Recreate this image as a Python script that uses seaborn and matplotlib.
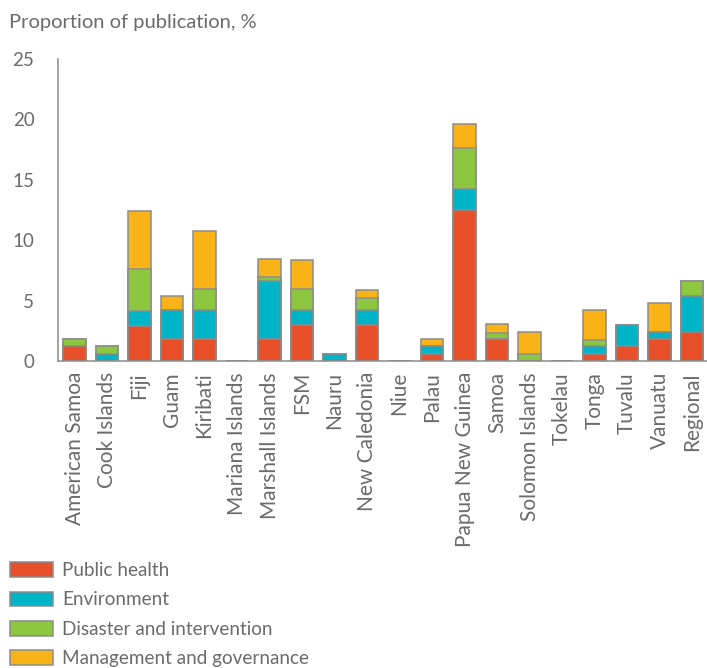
import numpy as np
import pandas as pd
import matplotlib.pyplot as plt
import matplotlib.patches as mpatches
import seaborn as sns

countries = ['American Samoa', 'Cook Islands', 'Fiji', 'Guam', 'Kiribati',
             'Mariana Islands', 'Marshall Islands', 'FSM', 'Nauru', 'New Caledonia',
             'Niue', 'Palau', 'Papua New Guinea', 'Samoa', 'Solomon Islands',
             'Tokelau', 'Tonga', 'Tuvalu', 'Vanuatu', 'Regional']

public_health = [1.2, 0.0, 2.9, 1.8, 1.8, 0.0, 1.8, 3.0, 0.0, 3.0,
                 0.0, 0.6, 12.5, 1.8, 0.0, 0.0, 0.6, 1.2, 1.8, 2.4]
environment = [0.0, 0.6, 1.2, 2.4, 2.4, 0.0, 4.8, 1.2, 0.6, 1.2,
               0.0, 0.6, 1.7, 0.0, 0.0, 0.0, 0.6, 1.8, 0.6, 3.0]
disaster = [0.6, 0.6, 3.5, 0.0, 1.8, 0.0, 0.35, 1.8, 0.0, 1.05,
            0.0, 0.0, 3.45, 0.55, 0.6, 0.0, 0.55, 0.0, 0.0, 1.2]
management = [0.0, 0.0, 4.8, 1.2, 4.8, 0.0, 1.5, 2.4, 0.0, 0.65,
              0.0, 0.6, 1.95, 0.7, 1.8, 0.0, 2.5, 0.0, 2.4, 0.0]

series_names = ['Public health', 'Environment', 'Disaster and intervention',
                'Management and governance']
colors = ['#E8502A', '#00B4C8', '#8DC63F', '#F9B316']

TEXT = '#6b6b6b'
EDGE = '#8c8c8c'

sns.set_style('white')
plt.rcParams['font.family'] = ['Lato', 'DejaVu Sans']
plt.rcParams['text.color'] = TEXT
plt.rcParams['axes.labelcolor'] = TEXT
plt.rcParams['xtick.color'] = EDGE
plt.rcParams['ytick.color'] = EDGE
plt.rcParams['xtick.labelcolor'] = TEXT
plt.rcParams['ytick.labelcolor'] = TEXT

df = pd.DataFrame({'country': countries,
                   series_names[0]: public_health,
                   series_names[1]: environment,
                   series_names[2]: disaster,
                   series_names[3]: management})
cum = df[series_names].cumsum(axis=1)
cum['country'] = countries

fig = plt.figure(figsize=(7.07, 6.68), dpi=100)
ax = fig.add_axes([0.082, 0.4596, 0.918, 0.452])

# stacked bars: draw cumulative totals from the top layer down
for name, col in reversed(list(zip(series_names, colors))):
    sns.barplot(data=cum, x='country', y=name, order=countries, color=col,
                saturation=1, width=0.69, edgecolor=EDGE, linewidth=1.1,
                ax=ax)

ax.set_xlim(-0.51, 19.46)
ax.set_ylim(0, 25)
ax.set_yticks([0, 5, 10, 15, 20, 25])
ax.set_xlabel('')
ax.set_ylabel('')
ax.tick_params(axis='y', length=7, width=1.1, pad=10, labelsize=13.5)
ax.tick_params(axis='x', which='major', length=0, pad=8, labelsize=15,
               labelrotation=90)
ax.set_xticks(np.arange(0.5, 19, 1), minor=True)
ax.tick_params(axis='x', which='minor', direction='in', length=7, width=1.1)

sns.despine(ax=ax)
for s in ['left', 'bottom']:
    ax.spines[s].set_color(EDGE)
    ax.spines[s].set_linewidth(1.1)

fig.text(0.013, 0.958, 'Proportion of publication, %', fontsize=14.5,
         color=TEXT, ha='left', va='baseline')

handles = [mpatches.Patch(facecolor=c, edgecolor=EDGE, linewidth=1.1, label=n)
           for n, c in zip(series_names, colors)]
fig.legend(handles=handles, loc='upper left', bbox_to_anchor=(0.004, 0.17),
           frameon=False, fontsize=13.6, handlelength=2.25, handleheight=0.82,
           handletextpad=0.5, labelspacing=0.66, borderaxespad=0)

fig.savefig('out.png', dpi=100, facecolor='white')
